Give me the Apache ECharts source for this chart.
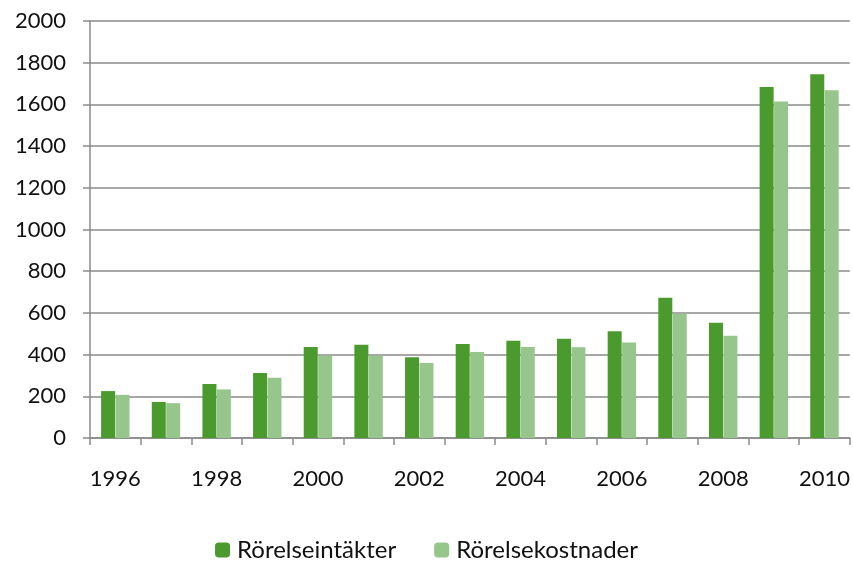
<!DOCTYPE html>
<html>
<head>
<meta charset="utf-8">
<script src="https://cdn.jsdelivr.net/npm/echarts@6/dist/echarts.min.js"></script>
<style>html,body{margin:0;padding:0;background:#fff}#c{width:853px;height:563px}</style>
</head>
<body>
<div id="c"></div>
<script>
var years = ['1996','1997','1998','1999','2000','2001','2002','2003','2004','2005','2006','2007','2008','2009','2010'];
var intakter = [225,173,259,312,437,447,387,451,467,476,512,673,553,1683,1745];
var kostnader = [207,167,233,289,395,395,360,413,437,435,458,596,490,1614,1668];
var seriesNames = ['Rörelseintäkter','Rörelsekostnader'];
var font = 'Lato, "Open Sans", sans-serif';
var chart = echarts.init(document.getElementById('c'));
chart.setOption({
  animation:false,
  textStyle:{fontFamily:font},
  grid:{left:90,right:3,top:21,bottom:125},
  legend:{
    top:533,left:'center',itemWidth:15,itemHeight:15,itemGap:38,
    textStyle:{fontSize:24,color:'#111',fontFamily:font,padding:[0,0,0,2]},
    data:seriesNames
  },
  xAxis:{
    type:'category',data:years,
    axisLine:{lineStyle:{color:'#8a8a8a',width:1.5}},
    axisTick:{show:true,interval:0,length:7,lineStyle:{color:'#8a8a8a',width:1.5}},
    axisLabel:{interval:1,margin:30,fontSize:22,color:'#111',fontFamily:font}
  },
  yAxis:{
    type:'value',min:0,max:2000,interval:200,
    axisLine:{show:true,lineStyle:{color:'#8a8a8a',width:1.5}},
    axisTick:{show:true,length:7,lineStyle:{color:'#8a8a8a',width:1.5}},
    splitLine:{lineStyle:{color:'#8a8a8a',width:1.5}},
    axisLabel:{margin:24,fontSize:22,color:'#111',fontFamily:font,formatter:function(v){return String(v);}}
  },
  series:[
    {name:seriesNames[0],type:'bar',data:intakter,barWidth:14,barGap:'3%',
     itemStyle:{color:'#4B9A2D'}},
    {name:seriesNames[1],type:'bar',data:kostnader,barWidth:14,
     itemStyle:{color:'#96C68B'}}
  ]
});
</script>
</body>
</html>
